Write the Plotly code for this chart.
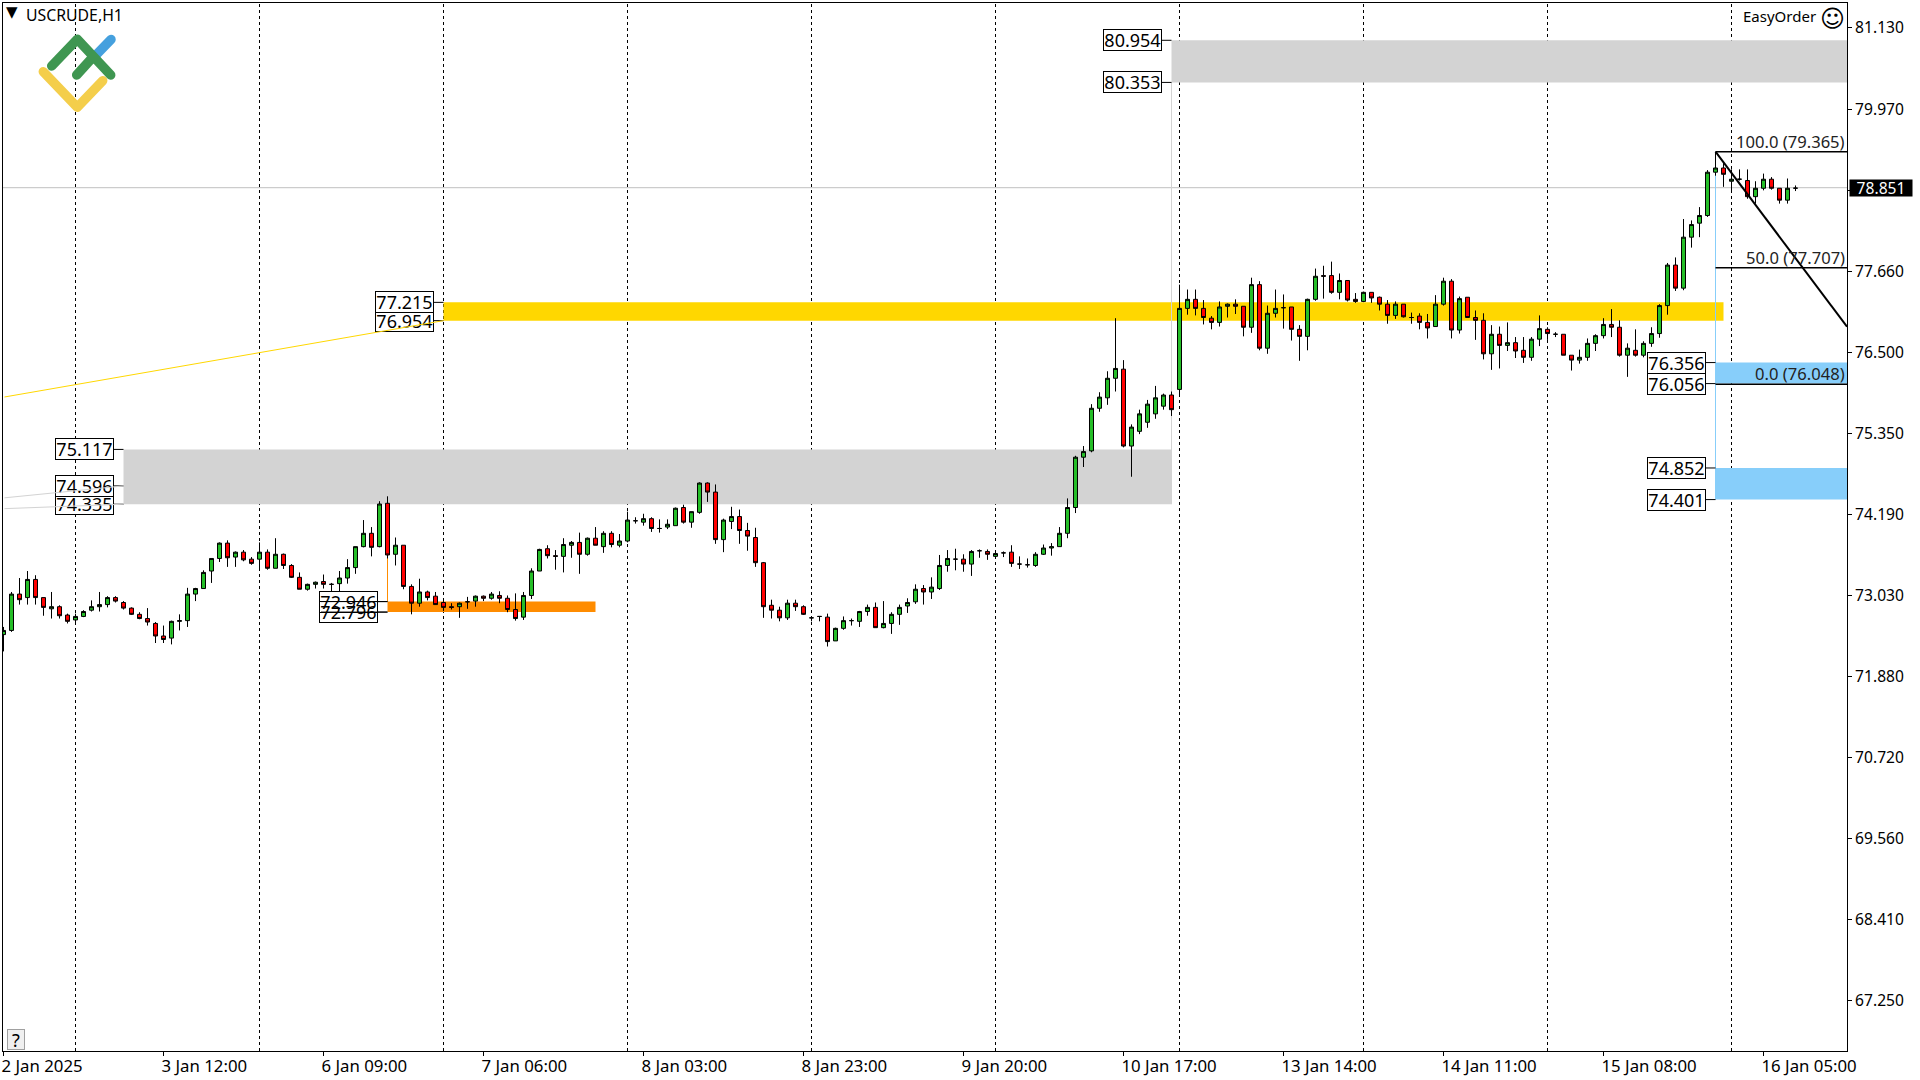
import base64
import plotly.graph_objects as go

opens = [72.46,72.52,73.04,72.99,73.25,72.99,72.83,72.86,72.74,72.67,72.72,72.81,72.86,72.89,72.99,72.92,72.84,72.75,72.69,72.62,
72.44,72.41,72.65,72.66,73.04,73.12,73.37,73.55,73.77,73.57,73.64,73.54,73.54,73.64,73.41,73.61,73.45,73.28,73.11,73.18,
73.22,73.18,73.19,73.27,73.42,73.72,73.91,73.72,74.34,73.61,73.74,73.15,72.91,73.07,73.01,72.92,72.86,72.86,72.93,72.94,
73.01,72.98,73.02,72.98,72.82,72.71,73.02,73.37,73.69,73.59,73.58,73.74,73.78,73.61,73.84,73.72,73.91,73.74,73.80,74.09,
74.07,74.12,73.98,74.00,74.02,74.28,74.07,74.21,74.63,74.50,73.82,74.08,74.15,73.95,73.85,73.49,72.88,72.81,72.70,72.91,
72.86,72.70,72.72,72.71,72.37,72.55,72.66,72.65,72.79,72.85,72.56,72.62,72.75,72.87,72.93,73.12,73.07,73.12,73.45,73.54,
73.54,73.47,73.66,73.65,73.58,73.63,73.64,73.47,73.46,73.45,73.61,73.70,73.72,73.91,74.28,75.00,75.09,75.70,75.85,76.13,
76.26,75.16,75.37,75.50,75.62,75.73,75.89,75.97,77.13,77.26,77.13,76.99,76.93,77.16,77.19,77.16,76.86,77.47,76.56,77.06,
77.14,77.15,76.83,76.73,77.26,77.60,77.60,77.36,77.53,77.26,77.23,77.36,77.29,77.19,77.03,77.19,77.00,77.02,76.93,76.87,
77.19,77.52,76.82,77.29,77.00,76.96,76.48,76.76,76.60,76.64,76.53,76.43,76.69,76.83,76.76,76.76,76.46,76.39,76.43,76.63,
76.74,76.90,76.86,76.46,76.53,76.46,76.63,76.77,77.17,77.75,77.42,78.15,78.35,78.46,79.08,79.14,78.95,78.98,78.96,78.73,
78.85,78.98,78.85,78.68,78.851]
highs = [72.57,73.07,73.27,73.37,73.31,72.99,73.07,72.88,72.76,72.76,72.81,72.95,73.07,73.01,73.01,72.94,72.85,72.78,72.84,72.64,
72.59,72.66,72.75,73.13,73.13,73.38,73.55,73.78,73.81,73.65,73.67,73.57,73.78,73.68,73.84,73.62,73.47,73.35,73.19,73.22,
73.32,73.20,73.37,73.54,73.72,74.10,74.00,74.37,74.44,73.85,73.74,73.18,73.26,73.09,73.07,72.94,72.91,72.92,73.00,73.02,
73.02,73.07,73.08,73.02,73.05,73.07,73.41,73.69,73.74,73.67,73.84,73.80,73.92,73.85,74.00,73.94,73.94,73.90,74.22,74.14,
74.19,74.14,74.11,74.11,74.28,74.32,74.22,74.64,74.64,74.61,74.12,74.29,74.25,74.06,73.99,73.50,72.96,72.86,72.96,72.96,
72.88,72.70,72.72,72.76,72.56,72.72,72.69,72.80,72.89,72.92,72.94,72.78,72.89,72.98,73.18,73.17,73.28,73.60,73.67,73.69,
73.61,73.67,73.68,73.68,73.62,73.65,73.74,73.58,73.55,73.64,73.75,73.77,74.00,74.41,75.02,75.16,75.76,75.93,76.23,76.99,
76.39,75.47,75.68,75.82,76.02,75.91,75.94,77.47,77.40,77.40,77.25,77.02,77.23,77.20,77.26,77.16,77.57,77.52,77.17,77.40,
77.33,77.15,76.89,77.27,77.70,77.74,77.80,77.63,77.53,77.35,77.37,77.36,77.30,77.25,77.23,77.19,77.07,77.06,77.05,77.32,
77.57,77.55,77.30,77.29,77.10,77.06,76.89,76.87,76.93,76.72,76.72,76.72,77.03,76.86,76.79,76.76,76.46,76.54,76.70,76.76,
76.99,77.12,76.96,76.63,76.83,76.66,76.86,77.19,77.78,77.86,78.41,78.39,78.58,79.11,79.365,79.21,79.12,79.12,79.12,78.95,
79.06,79.01,78.85,78.99,78.89]
lows = [72.22,72.50,72.89,72.89,72.89,72.73,72.69,72.69,72.62,72.63,72.71,72.79,72.79,72.85,72.92,72.82,72.74,72.68,72.59,72.34,
72.34,72.32,72.52,72.57,72.94,73.12,73.20,73.50,73.43,73.43,73.51,73.46,73.41,73.39,73.41,73.40,73.27,73.11,73.09,73.12,
73.12,73.07,73.07,73.19,73.33,73.71,73.58,73.71,73.55,73.45,73.11,72.75,72.86,72.95,72.89,72.80,72.82,72.70,72.83,72.86,
72.94,72.96,72.91,72.78,72.66,72.67,72.97,73.37,73.55,73.39,73.35,73.56,73.33,73.59,73.74,73.63,73.71,73.71,73.78,74.05,
74.02,73.93,73.92,73.97,74.02,74.05,73.99,74.19,74.36,73.76,73.64,73.97,73.76,73.66,73.43,72.70,72.69,72.65,72.67,72.80,
72.74,72.65,72.65,72.29,72.37,72.53,72.59,72.57,72.73,72.56,72.55,72.47,72.60,72.77,72.90,72.89,72.97,73.10,73.36,73.38,
73.36,73.30,73.56,73.53,73.57,73.57,73.43,73.40,73.42,73.43,73.60,73.59,73.72,73.84,74.20,74.86,75.07,75.65,75.75,75.94,
75.14,74.72,75.33,75.42,75.55,75.68,75.59,75.90,77.04,77.03,76.90,76.83,76.87,77.00,77.05,76.73,76.78,76.53,76.48,77.00,
76.84,76.67,76.38,76.53,77.24,77.27,77.34,77.26,77.23,77.21,77.22,77.21,77.10,76.91,76.98,77.00,76.91,76.83,76.70,76.87,
77.17,76.70,76.77,77.00,76.68,76.40,76.25,76.27,76.52,76.42,76.35,76.38,76.59,76.68,76.72,76.46,76.24,76.34,76.38,76.52,
76.70,76.72,76.44,76.15,76.44,76.43,76.58,76.71,77.04,77.38,77.39,78.00,78.15,78.44,79.03,78.87,78.82,78.96,78.70,78.63,
78.82,78.83,78.63,78.63,78.81]
closes = [72.52,73.04,72.96,73.25,72.99,72.85,72.86,72.73,72.65,72.72,72.79,72.86,72.89,72.99,72.94,72.84,72.75,72.69,72.64,72.44,
72.39,72.65,72.66,73.04,73.12,73.35,73.55,73.77,73.56,73.64,73.53,73.48,73.64,73.41,73.61,73.45,73.28,73.11,73.18,73.21,
73.18,73.18,73.27,73.42,73.72,73.91,73.71,74.33,73.60,73.74,73.15,72.91,73.07,72.99,72.89,72.85,72.85,72.91,72.93,73.01,
72.98,73.04,72.98,72.82,72.69,73.02,73.37,73.68,73.59,73.58,73.75,73.78,73.61,73.84,73.74,73.91,73.75,73.80,74.10,74.09,
74.12,73.98,73.98,74.04,74.27,74.07,74.22,74.63,74.50,73.82,74.10,74.15,73.95,73.87,73.49,72.86,72.81,72.70,72.91,72.86,
72.75,72.70,72.72,72.36,72.55,72.66,72.66,72.79,72.85,72.56,72.62,72.75,72.85,72.92,73.11,73.07,73.14,73.45,73.55,73.54,
73.47,73.65,73.66,73.61,73.62,73.63,73.48,73.47,73.46,73.61,73.70,73.72,73.91,74.28,75.00,75.08,75.70,75.86,76.13,76.27,
75.16,75.43,75.62,75.76,75.85,75.89,75.68,77.13,77.26,77.13,77.00,76.93,77.15,77.19,77.16,76.86,77.47,76.56,77.06,77.13,
77.14,76.83,76.73,77.26,77.59,77.59,77.36,77.53,77.25,77.23,77.36,77.28,77.19,77.03,77.19,77.01,77.00,76.93,76.85,77.19,
77.52,76.82,77.27,77.00,76.96,76.48,76.76,76.60,76.64,76.52,76.43,76.69,76.84,76.77,76.76,76.46,76.39,76.43,76.63,76.74,
76.90,76.86,76.46,76.56,76.46,76.63,76.77,77.17,77.75,77.42,78.15,78.33,78.46,79.08,79.14,79.05,78.98,78.98,78.73,78.85,
78.98,78.85,78.68,78.85,78.851]

# The candle readings above were taken against the tick spacing; the labelled zone
# prices give a slightly finer price scale, so readings are recalibrated to it.
READ_OFFSET, READ_SCALE = 0.261, 0.9966
def calibrate(series):
    return [round(READ_OFFSET + READ_SCALE * v, 3) for v in series]

x_tick_pos = [0,20,40,60,80,100,120,140,160,180,200,220]
x_tick_text = ["2 Jan 2025","3 Jan 12:00","6 Jan 09:00","7 Jan 06:00","8 Jan 03:00","8 Jan 23:00",
               "9 Jan 20:00","10 Jan 17:00","13 Jan 14:00","14 Jan 11:00","15 Jan 08:00","16 Jan 05:00"]
y_ticks = [81.13,79.97,78.81,77.66,76.5,75.35,74.19,73.03,71.88,70.72,69.56,68.41,67.25]
day_separators = [9,32,55,78,101,124,147,170,193,216]

last_price = 78.851
X_MIN, X_MAX = -0.0625, 230.4375
Y_MIN, Y_MAX = 66.534, 81.486
GRAY, GOLD, ORANGE, BLUE = "#D3D3D3", "#FFD700", "#FF8C00", "#87CEFA"
# zones: start index, end index, low, high, colour
zones = [(15,146,74.335,75.117,GRAY),(146,X_MAX,80.353,80.954,GRAY),(55,215,76.954,77.215,GOLD),
         (48,74,72.796,72.946,ORANGE),(214,X_MAX,76.056,76.356,BLUE),(214,X_MAX,74.401,74.852,BLUE)]
# price labels: index of left edge of zone, price
price_labels = [(15,75.117),(15,74.335),(15,74.596),(55,76.954),(55,77.215),(48,72.946),(48,72.796),
                (146,80.954),(146,80.353),(214,76.356),(214,76.056),(214,74.852),(214,74.401)]
see_through_labels = [72.796]
fib_levels = [(100.0,79.365),(50.0,77.707),(0.0,76.048)]

PL, PT, PW, PH = 3, 3, 1844, 1048
def px(x): return (x-PL)/PW
def py(y): return 1-(y-PT)/PH

LABEL_FONT = "Noto Sans"
fig = go.Figure(go.Candlestick(
    x=list(range(len(opens))), open=calibrate(opens), high=calibrate(highs), low=calibrate(lows), close=calibrate(closes),
    increasing=dict(fillcolor="#25BE28", line=dict(color="black", width=1)),
    decreasing=dict(fillcolor="#FF0000", line=dict(color="black", width=1)),
    whiskerwidth=0, hoverinfo="skip", showlegend=False))

shapes = []
for x0,x1,lo,hi,c in zones:
    shapes.append(dict(type="rect",xref="x",yref="y",x0=x0,x1=x1,y0=lo,y1=hi,fillcolor=c,line_width=0,layer="below"))
shapes.append(dict(type="line",xref="x",yref="y",x0=146,x1=146,y0=74.335,y1=80.353,line=dict(color=GRAY,width=1),layer="below"))
shapes.append(dict(type="line",xref="x",yref="y",x0=48,x1=48,y0=72.946,y1=74.34,line=dict(color=ORANGE,width=1),layer="below"))
shapes.append(dict(type="line",xref="x",yref="y",x0=214,x1=214,y0=74.401,y1=79.365,line=dict(color=BLUE,width=1),layer="below"))
shapes.append(dict(type="line",xref="paper",yref="y",x0=0,x1=1,y0=last_price,y1=last_price,line=dict(color="#C0C0C0",width=1),layer="below"))
for d in day_separators:
    shapes.append(dict(type="line",xref="x",yref="paper",x0=d,x1=d,y0=0,y1=1,line=dict(color="black",width=1,dash="3px,3px"),layer="below"))
for i,p in price_labels:
    shapes.append(dict(type="line",xref="x",yref="y",x0=i-1.2,x1=i,y0=p,y1=p,line=dict(color="black",width=1),layer="below"))
for name,p in fib_levels:
    shapes.append(dict(type="line",xref="x",yref="y",x0=214,x1=X_MAX,y0=p,y1=p,line=dict(color="black",width=1.5),layer="above"))
shapes.append(dict(type="line",xref="x",yref="y",x0=214,x1=X_MAX,y0=79.365,y1=76.868,line=dict(color="black",width=2),layer="above"))

ann = []
for i,p in price_labels:
    ann.append(dict(xref="x",yref="y",x=i,y=p,xshift=-10,xanchor="right",yanchor="middle",text=f"{p:.3f}",showarrow=False,
                    font=dict(family=LABEL_FONT,size=18,color="black"),
                    bgcolor="rgba(0,0,0,0)" if p in see_through_labels else "white",
                    bordercolor="black",borderwidth=1,borderpad=0,width=57,height=20,align="center",valign="middle"))
def overlay_line(x0,y0,x1,y1,color):
    ann.append(dict(xref="x",yref="y",axref="x",ayref="y",x=x1,y=y1,ax=x0,ay=y0,text=" ",showarrow=True,arrowhead=0,arrowwidth=1,
                    arrowcolor=color,standoff=0,startstandoff=0,font=dict(size=1)))
overlay_line(39.5,72.946,48,72.946,"black")
overlay_line(39.5,72.796,48,72.796,"black")
overlay_line(X_MIN,75.861,55,76.954,GOLD)
overlay_line(X_MIN,74.424,15,74.596,GRAY)
overlay_line(X_MIN,74.271,15,74.335,GRAY)

for name,p in fib_levels:
    ann.append(dict(xref="paper",yref="y",x=px(1846),y=p,xanchor="right",yanchor="bottom",yshift=-2,text=f"{name:.1f} ({p:.3f})",showarrow=False,
                    font=dict(family=LABEL_FONT,size=16.6,color="#222222"),borderpad=0))
ann.append(dict(xref="paper",yref="y",x=1,xshift=2,y=last_price,xanchor="left",yanchor="middle",text=f"{last_price:.3f}",showarrow=False,
                font=dict(family=LABEL_FONT,size=15.6,color="white"),bgcolor="black",borderpad=0,width=62,height=16,align="center"))
ann.append(dict(xref="paper",yref="paper",x=px(25),y=py(15),xanchor="left",yanchor="middle",text="USCRUDE,H1",showarrow=False,
                font=dict(family=LABEL_FONT,size=15.8,color="black"),borderpad=0))
ann.append(dict(xref="paper",yref="paper",x=px(12),y=py(12),xanchor="center",yanchor="middle",text="▼",showarrow=False,
                font=dict(family="DejaVu Sans",size=15,color="black"),borderpad=0))
ann.append(dict(xref="paper",yref="paper",x=px(1742),y=py(16),xanchor="left",yanchor="middle",text="EasyOrder",showarrow=False,
                font=dict(family=LABEL_FONT,size=15,color="black"),borderpad=0))
ann.append(dict(xref="paper",yref="paper",x=px(1832),y=py(19),xanchor="center",yanchor="middle",text="☺",showarrow=False,
                font=dict(family="DejaVu Sans",size=24,color="black"),borderpad=0))
ann.append(dict(xref="paper",yref="paper",x=px(7),y=0,yshift=1,xanchor="left",yanchor="bottom",text="?",showarrow=False,
                font=dict(family=LABEL_FONT,size=18,color="black"),bgcolor="#F0F0F0",bordercolor="#A0A0A0",borderwidth=1,borderpad=0,width=16,height=19))

logo_svg = """<svg xmlns="http://www.w3.org/2000/svg" viewBox="30 25 100 100" width="100" height="100">
<g fill="none" stroke-width="9.5" stroke-linecap="round" stroke-linejoin="round">
<path d="M96 55L111 39.5" stroke="#45A0DE"/>
<path d="M43.3 71.7L77.3 107.3L102.7 80.7" stroke="#F4CE4B"/>
<path d="M51.7 66L77.3 39.3L110.7 75M76.7 75L93 57" stroke="#3F9651"/>
</g></svg>"""
logo = "data:image/svg+xml;base64," + base64.b64encode(logo_svg.encode()).decode()

fig.update_layout(
    width=1920, height=1080, margin=dict(l=PL,r=1920-PL-PW,t=PT,b=1080-PT-PH,autoexpand=False),
    paper_bgcolor="white", plot_bgcolor="white", showlegend=False, boxgap=0.5, boxgroupgap=0, hovermode=False,
    shapes=shapes, annotations=ann,
    images=[dict(source=logo,xref="paper",yref="paper",x=px(30),y=py(25),sizex=100/PW,sizey=100/PH,
                 xanchor="left",yanchor="top",sizing="stretch",layer="above")],
    font=dict(family=LABEL_FONT,color="black"),
    xaxis=dict(range=[X_MIN,X_MAX],rangeslider_visible=False,showgrid=False,zeroline=False,showline=True,mirror=True,
               automargin=False,linecolor="black",linewidth=1,ticks="outside",ticklen=4,tickwidth=1,tickcolor="black",
               tickmode="array",tickvals=x_tick_pos,ticktext=x_tick_text,ticklabelposition="outside right",ticklabelshift=-3,
               tickfont=dict(family=LABEL_FONT,size=16.8,color="black")),
    yaxis=dict(range=[Y_MIN,Y_MAX],side="right",showgrid=False,zeroline=False,showline=True,mirror=True,
               automargin=False,linecolor="black",linewidth=1,ticks="outside",ticklen=4,tickwidth=1,tickcolor="black",
               tickmode="array",tickvals=y_ticks,ticktext=[f"{v:.3f}" for v in y_ticks],
               tickfont=dict(family=LABEL_FONT,size=15.6,color="black")),
)
fig.write_html("out.html", config=dict(displayModeBar=False),
               post_script="document.body.style.margin='0';document.documentElement.style.overflow='hidden';")
